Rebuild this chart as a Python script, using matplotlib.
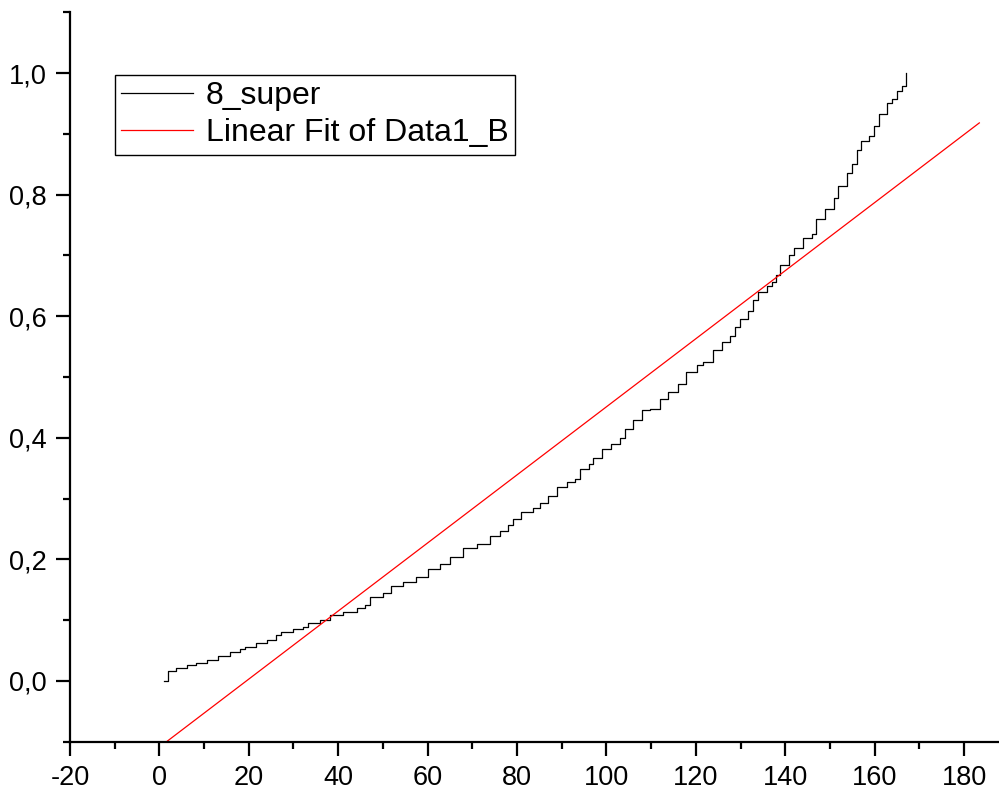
import matplotlib
matplotlib.use("Agg")
import matplotlib.pyplot as plt
from matplotlib.ticker import MultipleLocator, FuncFormatter

plt.rcParams["font.family"] = ["Liberation Sans", "DejaVu Sans"]

# step curve "8_super": x where the step rises, level after the step
step_x = [1.1, 2.0, 3.8, 6.1, 8.3, 10.6, 13.2, 15.8, 18.0, 19.1, 21.7, 24.0,
          26.1, 27.3, 29.9, 32.2, 33.3, 35.9, 38.1, 41.1, 44.1, 46.0, 47.1,
          50.1, 51.9, 54.5, 57.5, 60.1, 62.8, 65.0, 68.0, 71.0, 73.9, 76.1,
          78.0, 79.2, 81.0, 83.6, 85.1, 87.0, 88.9, 91.1, 93.0, 94.1, 96.0,
          97.1, 98.9, 101.0, 103.0, 104.1, 106.0, 107.9, 109.7, 112.0, 113.8,
          116.1, 117.9, 120.2, 121.7, 123.9, 125.8, 127.6, 128.7, 129.9,
          131.7, 132.8, 133.9, 135.8, 137.0, 137.9, 138.9, 140.9, 141.9,
          144.0, 145.9, 146.9, 148.9, 150.9, 151.9, 153.9, 154.9, 156.0,
          157.0, 158.8, 159.8, 161.0, 162.8, 163.9, 164.9, 166.0, 166.9]
step_y = [0.000, 0.017, 0.022, 0.026, 0.030, 0.034, 0.041, 0.048, 0.052,
          0.056, 0.062, 0.068, 0.075, 0.080, 0.085, 0.089, 0.095, 0.101,
          0.108, 0.113, 0.120, 0.125, 0.138, 0.144, 0.156, 0.163, 0.171,
          0.184, 0.193, 0.204, 0.218, 0.226, 0.238, 0.247, 0.256, 0.267,
          0.278, 0.284, 0.292, 0.305, 0.319, 0.327, 0.333, 0.349, 0.357,
          0.366, 0.382, 0.390, 0.400, 0.415, 0.429, 0.445, 0.448, 0.464,
          0.475, 0.489, 0.508, 0.519, 0.524, 0.544, 0.557, 0.568, 0.582,
          0.596, 0.609, 0.626, 0.639, 0.650, 0.656, 0.667, 0.684, 0.700,
          0.713, 0.729, 0.735, 0.760, 0.776, 0.795, 0.814, 0.836, 0.850,
          0.873, 0.888, 0.897, 0.913, 0.932, 0.950, 0.958, 0.970, 0.978,
          1.000]

# linear fit end points
fit_x = [0.0, 183.4]
fit_y = [-0.109, 0.918]

fig = plt.figure(figsize=(9.99, 7.91), dpi=100)
ax = fig.add_axes([0.070, 0.0623, 0.930, 0.9222])

ax.plot(step_x, step_y, drawstyle="steps-post", color="black", lw=0.9, label="8_super")
ax.plot(fit_x, fit_y, color="red", lw=0.9, label="Linear Fit of Data1_B")

ax.set_xlim(-20, 187.8)
ax.set_ylim(-0.1, 1.1)

for s in ["top", "right"]:
    ax.spines[s].set_visible(False)
for s in ["left", "bottom"]:
    ax.spines[s].set_linewidth(1.6)

ax.xaxis.set_major_locator(MultipleLocator(20))
ax.xaxis.set_minor_locator(MultipleLocator(10))
ax.yaxis.set_major_locator(MultipleLocator(0.2))
ax.yaxis.set_minor_locator(MultipleLocator(0.1))
ax.yaxis.set_major_formatter(FuncFormatter(lambda v, p: ("%.1f" % v).replace(".", ",").replace("-0,0", "0,0")))
ax.xaxis.set_major_formatter(FuncFormatter(lambda v, p: "%d" % round(v)))

ax.tick_params(which="major", direction="out", length=10, width=1.6, labelsize=19.5, pad=7)
ax.tick_params(which="minor", direction="out", length=5, width=1.6)

leg = ax.legend(loc="upper left", bbox_to_anchor=(0.0484, 0.914), borderaxespad=0,
                fontsize=23, fancybox=False, framealpha=1, edgecolor="black",
                handlelength=2.25, handletextpad=0.4, borderpad=0.2, labelspacing=0.22)
leg.get_frame().set_linewidth(1.0)

fig.savefig("out.png", dpi=100)
